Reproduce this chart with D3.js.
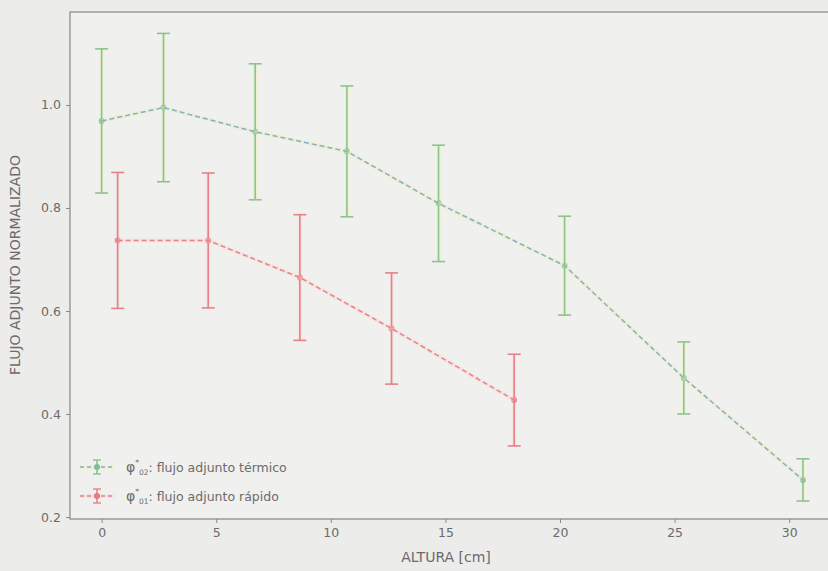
<!DOCTYPE html>
<html><head><meta charset="utf-8">
<script src="https://cdn.jsdelivr.net/npm/d3@7"></script>
<style>
html,body{margin:0;padding:0;background:#ececea;}
svg{display:block;}
text{font-family:"DejaVu Sans",sans-serif;fill:#6b6b6b;}
</style></head>
<body>
<svg id="chart" width="828" height="571"></svg>
<script>
// Data
const alturaTermico = [0, 2.7, 6.7, 10.7, 14.7, 20.2, 25.4, 30.6];
const flujoTermico  = [0.969, 0.995, 0.948, 0.910, 0.809, 0.688, 0.470, 0.272];
const errTermico    = [0.140, 0.144, 0.132, 0.127, 0.113, 0.096, 0.070, 0.041];

const alturaRapido = [0.7, 4.65, 8.65, 12.65, 18.0];
const flujoRapido  = [0.737, 0.737, 0.665, 0.566, 0.427];
const errRapido    = [0.132, 0.131, 0.122, 0.108, 0.089];

const xTicks = [0, 5, 10, 15, 20, 25, 30];
const yTicks = [0.2, 0.4, 0.6, 0.8, 1.0];

const labelTermico = {sym: "φ", sup: "*", sub: "02", text: ": flujo adjunto térmico"};
const labelRapido  = {sym: "φ", sup: "*", sub: "01", text: ": flujo adjunto rápido"};
const xLabel = "ALTURA [cm]";
const yLabel = "FLUJO ADJUNTO NORMALIZADO";

const svg = d3.select("#chart");
const L = 70, R = 830, T = 12, B = 519;

const x = d3.scaleLinear().domain([-1.3797, 31.78]).range([L, R]);
const y = d3.scaleLinear().domain([0.19612, 1.18058]).range([B, T]);

// plot background
svg.append("rect").attr("x", L).attr("y", T).attr("width", R - L).attr("height", B - T)
  .attr("fill", "#f0f0ee");

// axes
const xAxis = d3.axisBottom(x).tickValues(xTicks).tickFormat(d3.format("d")).tickSize(4).tickPadding(5);
const yAxis = d3.axisLeft(y).tickValues(yTicks).tickFormat(d3.format(".1f")).tickSize(4).tickPadding(5);

const gx = svg.append("g").attr("transform", `translate(0,${B})`).call(xAxis);
const gy = svg.append("g").attr("transform", `translate(${L},0)`).call(yAxis);
[gx, gy].forEach(g => {
  g.select(".domain").remove();
  g.selectAll(".tick line").attr("stroke", "#8a8a8a").attr("stroke-width", 1);
  g.selectAll(".tick text").attr("font-size", 12.5).attr("fill", "#707070");
});

// frame
svg.append("rect").attr("x", L).attr("y", T).attr("width", R - L).attr("height", B - T)
  .attr("fill", "none").attr("stroke", "#8e8e8e").attr("stroke-width", 1.3);

const line = d3.line().x(d => x(d[0])).y(d => y(d[1]));

function drawSeries(xs, ys, es, opt) {
  const pts = xs.map((v, i) => [v, ys[i], es[i]]);
  const g = svg.append("g");
  const eb = g.selectAll("g.eb").data(pts).join("g");
  eb.append("line").attr("x1", d => x(d[0])).attr("x2", d => x(d[0]))
    .attr("y1", d => y(d[1] + d[2])).attr("y2", d => y(d[1] - d[2]))
    .attr("stroke", opt.halo).attr("stroke-width", 4).attr("opacity", 0.4);
  g.append("path").datum(pts).attr("d", line).attr("fill", "none")
    .attr("stroke", opt.halo).attr("stroke-width", 4).attr("opacity", 0.4);
  g.append("path").datum(pts).attr("d", line).attr("fill", "none")
    .attr("stroke", opt.line).attr("stroke-width", 1.5).attr("stroke-dasharray", "5,3");
  eb.append("line").attr("x1", d => x(d[0])).attr("x2", d => x(d[0]))
    .attr("y1", d => y(d[1] + d[2])).attr("y2", d => y(d[1] - d[2]))
    .attr("stroke", opt.bar).attr("stroke-width", 1.6);
  [1, -1].forEach(s => {
    eb.append("line").attr("x1", d => x(d[0]) - 6.5).attr("x2", d => x(d[0]) + 6.5)
      .attr("y1", d => y(d[1] + s * d[2])).attr("y2", d => y(d[1] + s * d[2]))
      .attr("stroke", opt.bar).attr("stroke-width", 1.6);
  });
  eb.append("circle").attr("cx", d => x(d[0])).attr("cy", d => y(d[1])).attr("r", 3)
    .attr("fill", opt.marker).attr("opacity", 0.8);
}

const greenOpt = {halo: "#eaf1a8", line: "#86acd0", bar: "#8cc48c", marker: "#7fbf95"};
const redOpt = {halo: "#f7d6d2", line: "#e98088", bar: "#e88088", marker: "#e87882"};
drawSeries(alturaTermico, flujoTermico, errTermico, greenOpt);
drawSeries(alturaRapido, flujoRapido, errRapido, redOpt);

// legend
function legendRow(yc, lab, opt) {
  const cx = 97;
  svg.append("line").attr("x1", cx - 17).attr("x2", cx + 17).attr("y1", yc).attr("y2", yc)
    .attr("stroke", opt.halo).attr("stroke-width", 4).attr("opacity", 0.4);
  svg.append("line").attr("x1", cx - 17).attr("x2", cx + 17).attr("y1", yc).attr("y2", yc)
    .attr("stroke", opt.line).attr("stroke-width", 1.5).attr("stroke-dasharray", "4,3");
  svg.append("line").attr("x1", cx).attr("x2", cx).attr("y1", yc - 7).attr("y2", yc + 7)
    .attr("stroke", opt.bar).attr("stroke-width", 1.6);
  [-7, 7].forEach(o => svg.append("line").attr("x1", cx - 4).attr("x2", cx + 4)
    .attr("y1", yc + o).attr("y2", yc + o).attr("stroke", opt.bar).attr("stroke-width", 1.4));
  svg.append("circle").attr("cx", cx).attr("cy", yc).attr("r", 3).attr("fill", opt.marker);
  const t = svg.append("text").attr("x", 126).attr("y", yc + 4.5).attr("font-size", 12.5);
  t.append("tspan").text(lab.sym).attr("font-size", 14);
  t.append("tspan").text(lab.sup).attr("font-size", 7.5).attr("dy", -7);
  t.append("tspan").text(lab.sub).attr("font-size", 7.5).attr("dy", 10);
  t.append("tspan").text(lab.text).attr("dy", -3);
}
legendRow(467, labelTermico, greenOpt);
legendRow(496, labelRapido, redOpt);

// axis labels
svg.append("text").attr("x", 446).attr("y", 562).attr("text-anchor", "middle")
  .attr("font-size", 14).text(xLabel);
svg.append("text").attr("transform", "translate(20,265) rotate(-90)").attr("text-anchor", "middle")
  .attr("font-size", 14).text(yLabel);
</script>
</body></html>
